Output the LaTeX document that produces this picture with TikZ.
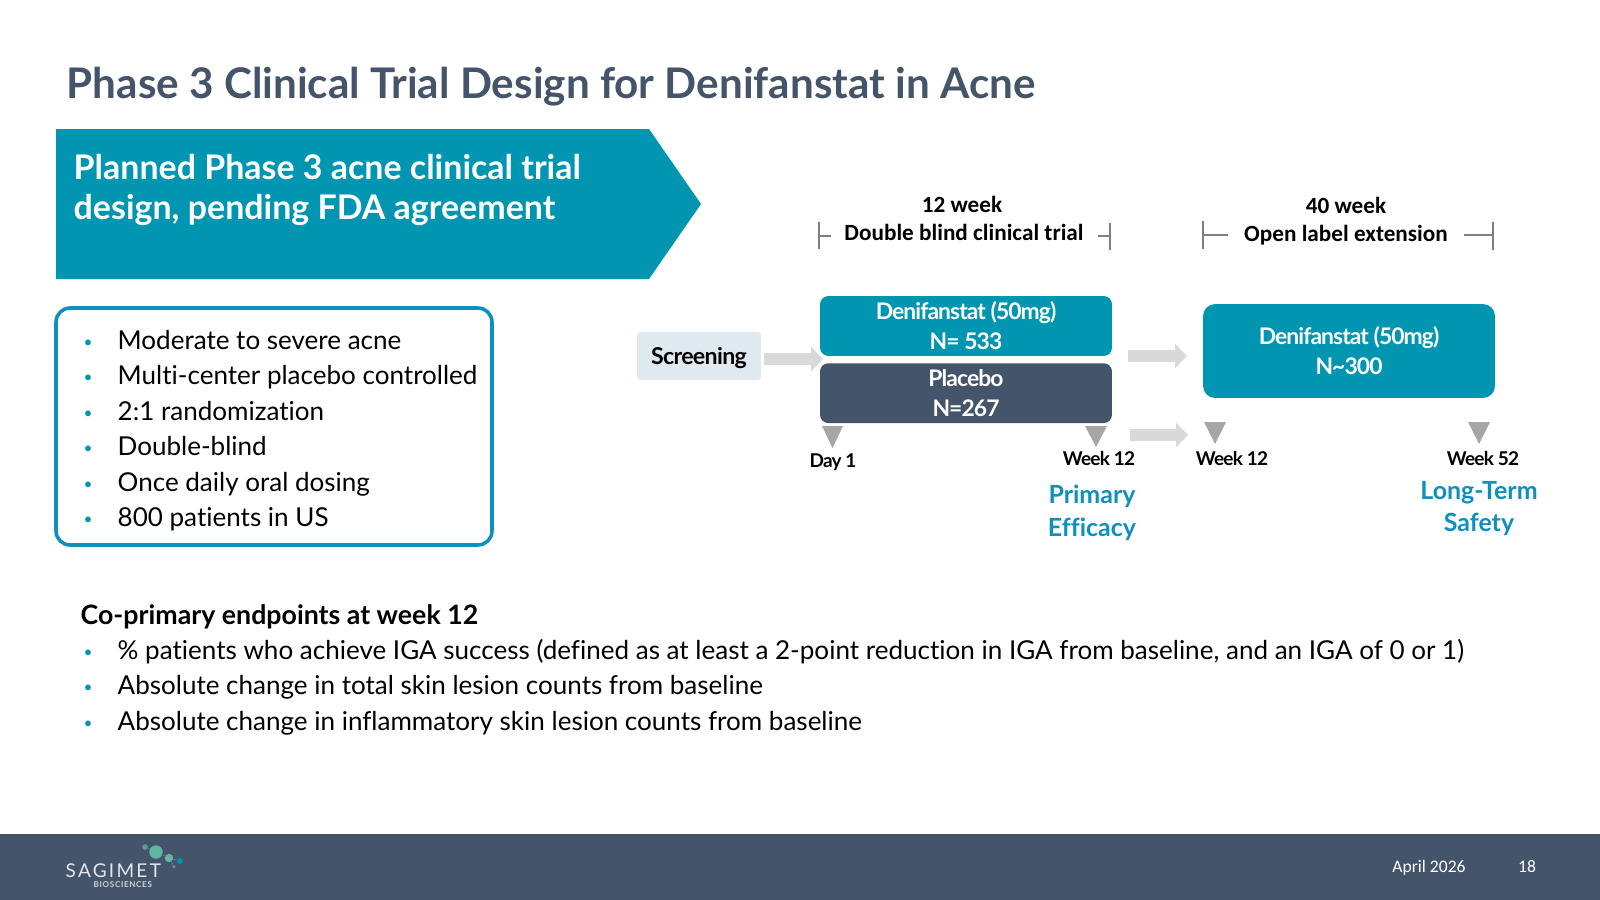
\documentclass[tikz,border=0pt]{standalone}
\usepackage{fontspec}
\setmainfont{Lato}[Ligatures=NoCommon]
\newfontfamily\labelfont{Carlito}
\usetikzlibrary{positioning, arrows.meta, calc}
\definecolor{tealfill}{HTML}{0095B0}
\definecolor{navyfill}{HTML}{44546A}
\definecolor{bluetext}{HTML}{0E8FBF}
\definecolor{screenfill}{HTML}{DFEAF0}
\definecolor{arrowgrey}{HTML}{D9D9D9}
\definecolor{markgrey}{HTML}{A6A6A6}
\definecolor{tickgrey}{HTML}{7F7F7F}
\definecolor{logogreen}{HTML}{63B5A3}
\definecolor{logodim}{HTML}{5A9CA6}
\newcommand{\dotmark}{\makebox[9.67pt][l]{\raisebox{0.55pt}{\fontsize{4.4}{5}\selectfont\textcolor{tealfill}{•}}}}
\begin{document}
\begin{tikzpicture}[
            x=0.01cm, y=-0.01cm,
            body/.style={anchor=base west, inner sep=0pt, font=\fontsize{7.4}{9}\selectfont},
            headline/.style={anchor=base west, inner sep=0pt, font=\fontsize{9.65}{11.2}\selectfont\bfseries, text=white, align=left},
            arm/.style={rounded corners=2.3pt, inner sep=0pt, minimum width=83pt, text=white, align=center, font=\fontsize{6.5}{8.5}\selectfont\bfseries\addfontfeature{LetterSpace=-4}},
            period/.style={anchor=base, inner sep=0pt, font=\labelfont\fontsize{6.6}{8}\selectfont\bfseries},
            visit/.style={anchor=base, inner sep=0pt, font=\fontsize{5.4}{7}\selectfont\bfseries\addfontfeature{LetterSpace=-4}},
            outcome/.style={anchor=base, inner sep=0pt, text=bluetext, font=\fontsize{7.1}{9}\selectfont\bfseries},
            blockarrow/.style={draw=arrowgrey, line width=3.4pt, -{Triangle[length=3.4pt, width=6.8pt]}},
            tick/.style={draw=tickgrey, line width=0.35pt},
            marker/.style={fill=markgrey},
            molecule/.style={circle, inner sep=0pt},
            footer/.style={anchor=base, inner sep=0pt, text=white, font=\labelfont\fontsize{5}{6}\selectfont}
          ]
        \useasboundingbox (0,0) rectangle (1600,900);

        \node[anchor=base west, inner sep=0pt, text=navyfill, font=\fontsize{12}{14}\selectfont\bfseries] (title) at (66,98) {Phase 3 Clinical Trial Design for Denifanstat in Acne};

        % left column
        \fill[tealfill] (56,129) -- (649,129) -- (701,204) -- (649,279) -- (56,279) -- cycle;
        \node[headline] (banner) at (73,219) {Planned Phase 3 acne clinical trial\\design, pending FDA agreement};

        \draw[bluetext, line width=1pt, rounded corners=4pt] (56,308) rectangle (492,545);
        \node[body] (crit1) at (83,349) {\dotmark Moderate to severe acne};
        \node[body] (crit2) at (83,384) {\dotmark Multi-center placebo controlled};
        \node[body] (crit3) at (83,420) {\dotmark 2:1 randomization};
        \node[body] (crit4) at (83,455) {\dotmark Double-blind};
        \node[body] (crit5) at (83,491) {\dotmark Once daily oral dosing};
        \node[body] (crit6) at (83,526) {\dotmark 800 patients in US};

        % trial scheme
        \node[fill=screenfill, rounded corners=0.8pt, inner sep=0pt, minimum width=35.2pt, minimum height=13.6pt, text depth=0pt, font=\fontsize{6.6}{8}\selectfont\bfseries\addfontfeature{LetterSpace=-3}] (screening) at (699,356) {Screening};
        \node[arm, fill=tealfill, minimum height=17pt] (drug) at (966,326) {Denifanstat (50mg)\\N= 533};
        \node[arm, fill=navyfill, minimum height=17pt, below=1.7pt of drug] (placebo) {Placebo\\N=267};
        \node[arm, fill=tealfill, rounded corners=3.4pt, minimum height=26.7pt] (extension) at (1349,351) {Denifanstat (50mg)\\N\textasciitilde300};

        \coordinate (splitin) at (823,359);
        \coordinate (rollone) at (1187,356);
        \coordinate (rolltwo) at (1188,435);
        \draw[blockarrow, shorten <=0.6pt] (screening.east |- splitin) -- (splitin);
        \draw[blockarrow, shorten <=4.27pt] (drug.east |- rollone) -- (rollone);
        \draw[blockarrow, shorten <=4.84pt] (placebo.east |- rolltwo) -- (rolltwo);

        \node[period] (len1) at (962,212) {12 week};
        \node[period] (arm1) at (964,240) {Double blind clinical trial};
        \node[period] (len2) at (1346,213) {40 week};
        \node[period] (arm2) at (1346,241) {Open label extension};
        \coordinate (b1l) at (819,236);
        \coordinate (b1r) at (1110,236);
        \coordinate (b2l) at (1203,235);
        \coordinate (b2r) at (1493,235);
        \draw[tick] (819,222) -- (819,249);
        \draw[tick] (b1l) -- (831,236);
        \draw[tick] (1110,223) -- (1110,250);
        \draw[tick] (1098,236) -- (b1r);
        \draw[tick] (1203,221) -- (1203,249);
        \draw[tick] (b2l) -- (1228,235);
        \draw[tick] (1493,222) -- (1493,250);
        \draw[tick] (1464,235) -- (b2r);

        \fill[marker] (822,426) -- (843,426) -- (832.5,448) -- cycle;
        \fill[marker] (1085,426) -- (1107,426) -- (1096,447) -- cycle;
        \fill[marker] (1204,422) -- (1226,422) -- (1215,444) -- cycle;
        \fill[marker] (1468,422) -- (1490,422) -- (1479,444) -- cycle;

        \node[visit] (day1) at (833,467) {Day 1};
        \node[visit] (wk12a) at (1099,465) {Week 12};
        \node[visit] (wk12b) at (1232,465) {Week 12};
        \node[visit] (wk52) at (1483,465) {Week 52};

        \node[outcome] (primary) at (1092,503) {Primary};
        \node[outcome] (efficacy) at (1092,536) {Efficacy};
        \node[outcome] (longterm) at (1479,499) {Long-Term};
        \node[outcome] (safety) at (1479,531) {Safety};

        % endpoints
        \node[body, font=\fontsize{7.6}{9}\selectfont\bfseries] (endhead) at (80,624) {Co-primary endpoints at week 12};
        \node[body] (end1) at (83,659) {\dotmark \% patients who achieve IGA success (defined as at least a 2-point reduction in IGA from baseline, and an IGA of 0 or 1)};
        \node[body] (end2) at (83,694) {\dotmark Absolute change in total skin lesion counts from baseline};
        \node[body] (end3) at (83,730) {\dotmark Absolute change in inflammatory skin lesion counts from baseline};

        % footer
        \fill[navyfill] (0,834) rectangle (1600,900);
        \node[molecule, fill=logodim, minimum size=1.6pt] (dota) at (145,847) {};
        \node[molecule, fill=logogreen, minimum size=3.8pt] (dotb) at (156,852) {};
        \node[molecule, fill=logogreen, minimum size=2.4pt] (dotc) at (169,858) {};
        \node[molecule, fill=tealfill, minimum size=1.6pt] (dotd) at (180,861) {};
        \node[molecule, fill=logodim, minimum size=1pt] (dote) at (174,866.5) {};
        \draw[logodim, line width=0.15pt] (dota) -- (dotb) -- (dotc) -- (dotd);
        \draw[logodim, line width=0.15pt] (dotc) -- (dote);
        \node[anchor=base west, inner sep=0pt, text=white!85!navyfill, font=\fontsize{5.4}{8}\selectfont\addfontfeature{LetterSpace=12}] (logo) at (65,877) {SAGIMET};
        \node[anchor=base west, inner sep=0pt, text=white!75!navyfill, font=\fontsize{2.3}{3}\selectfont\bfseries\addfontfeature{LetterSpace=8}] (logosub) at (93,887) {BIOSCIENCES};
        \node[footer] (date) at (1429,872) {April 2026};
        \node[footer] (page) at (1527,872) {18};
\end{tikzpicture}
\end{document}
